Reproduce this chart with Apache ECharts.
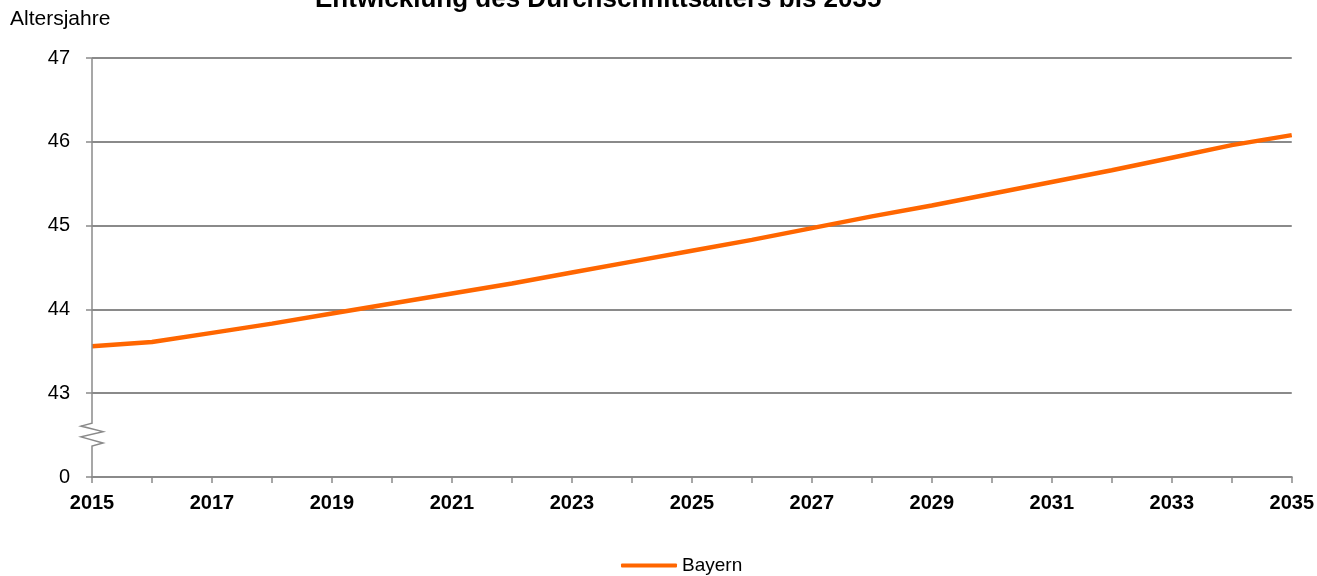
<!DOCTYPE html>
<html>
<head>
<meta charset="utf-8">
<script src="https://cdn.jsdelivr.net/npm/echarts@6/dist/echarts.min.js"></script>
<style>
html,body{margin:0;padding:0;background:#fff;}
#chart{width:1317px;height:576px;}
</style>
</head>
<body>
<div id="chart"></div>
<script>
const years = ['2015','2016','2017','2018','2019','2020','2021','2022','2023','2024','2025','2026','2027','2028','2029','2030','2031','2032','2033','2034','2035'];
const bayern = [43.56,43.61,43.72,43.83,43.95,44.07,44.19,44.31,44.44,44.57,44.70,44.83,44.97,45.11,45.24,45.38,45.52,45.66,45.81,45.96,46.08];
const yMin = 42, yMax = 47, yStep = 1;
const breakLabel = '0';
const titleText = 'Entwicklung des Durchschnittsalters bis 2035';
const yName = 'Altersjahre';
const seriesName = 'Bayern';

const gray = '#8a8a8a';
const font = '"Liberation Sans", Arial, sans-serif';
const chart = echarts.init(document.getElementById('chart'), null, {renderer:'canvas'});
chart.setOption({
  animation:false,
  backgroundColor:'#fff',
  title:{
    text:titleText, left:315, top:-13, padding:0,
    textStyle:{fontFamily:font, fontSize:26, fontWeight:'bold', color:'#000'}
  },
  grid:{left:92, right:24, top:58, bottom:99, containLabel:false},
  legend:{
    left:616, top:551, itemWidth:56, itemHeight:4, itemGap:10,
    icon:'roundRect',
    textStyle:{fontFamily:font, fontSize:19, color:'#000'},
    data:[seriesName]
  },
  xAxis:{
    type:'category', data:years, boundaryGap:false,
    axisLine:{show:true, lineStyle:{color:gray, width:2}},
    axisTick:{show:true, length:6, interval:0, lineStyle:{color:gray, width:1.5}},
    axisLabel:{interval:1, margin:16, fontFamily:font, fontSize:20, fontWeight:'bold', color:'#000'},
    splitLine:{show:false}
  },
  yAxis:{
    type:'value', min:yMin, max:yMax, interval:yStep,
    axisLine:{show:false},
    axisTick:{show:true, length:6, lineStyle:{color:gray, width:1.5}},
    axisLabel:{margin:22, fontFamily:font, fontSize:20, color:'#000',
      formatter:v => v === yMin ? breakLabel : String(v)},
    splitLine:{show:true, lineStyle:{color:gray, width:2}}
  },
  series:[{
    name:seriesName, type:'line', data:bayern, showSymbol:false, symbol:'none',
    lineStyle:{color:'#ff6600', width:4.5}, itemStyle:{color:'#ff6600'}
  }]
});

// broken y-axis line with zigzag
function drawAxis(){
  const ax = chart.convertToPixel({xAxisIndex:0}, years[0]);
  const yp = v => chart.convertToPixel({yAxisIndex:0}, v);
  const gapTop = yMin + 0.643, gapBot = yMin + 0.369;
  const pTop = yp(gapTop), pBot = yp(gapBot);
  const h = pBot - pTop;
  const pts = [
    [ax, yp(yMax)], [ax, pTop],
    [ax-11, pTop + h*0.13], [ax+11, pTop + h*0.37], [ax-11, pTop + h*0.6],
    [ax+11, pTop + h*0.87], [ax, pBot], [ax, yp(yMin)]
  ];
  chart.setOption({
    graphic:[
      {type:'polyline', shape:{points:pts}, style:{stroke:gray, lineWidth:1.5, fill:null}, z:10},
      {type:'text', left:10, top:9, style:{text:yName, font:'21px ' + font, fill:'#000'}}
    ]
  });
}
drawAxis();
</script>
</body>
</html>
